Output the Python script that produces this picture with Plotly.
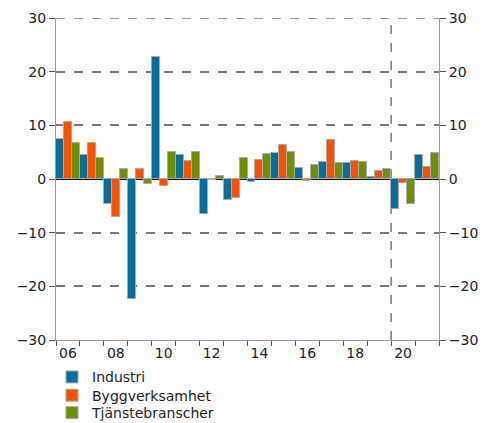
import plotly.graph_objects as go

# data
years = list(range(2006, 2022))
industri = [7.4, 4.5, -4.7, -22.4, 22.8, 4.5, -6.6, -3.9, -0.6, 4.8, 2.1, 3.2, 3.0, 0.4, -5.6, 4.5]
bygg = [10.7, 6.8, -7.0, 1.8, -1.3, 3.3, -0.1, -3.6, 3.6, 6.3, -0.4, 7.2, 3.4, 1.5, -0.8, 2.3]
tjanst = [6.8, 4.0, 1.9, -1.0, 5.0, 5.0, 0.6, 4.0, 4.7, 5.1, 2.7, 3.0, 3.2, 1.9, -4.7, 4.8]
tick_years = [2006, 2008, 2010, 2012, 2014, 2016, 2018, 2020]
tick_text = ["06", "08", "10", "12", "14", "16", "18", "20"]

fig = go.Figure()
series = [("Industri", industri, "#006f9e", "legend"),
          ("Byggverksamhet", bygg, "#ff5000", "legend2"),
          ("Tjänstebranscher", tjanst, "#6e9100", "legend3")]
for name, vals, col, leg in series:
    fig.add_trace(go.Bar(x=years, y=vals, name=name, legend=leg,
                         marker=dict(color=col, line=dict(color="#aaaaaa", width=1))))

# usynlig trace for høgre akse
fig.add_trace(go.Scatter(x=[years[0]], y=[0], yaxis="y2", mode="markers",
                         marker=dict(opacity=0), showlegend=False, hoverinfo="skip"))

# prognoselinje + toppgrid
fig.add_shape(type="line", x0=2019.5, x1=2019.5, y0=-30, y1=30, xref="x", yref="y",
              line=dict(color="#777777", width=1.5, dash="dash"), layer="below")
fig.add_shape(type="line", x0=0, x1=1, y0=30, y1=30, xref="paper", yref="y",
              line=dict(color="#777777", width=1.5, dash="dash"), layer="below")

# tre legender, en per serie, for tett radavstand
leg_common = dict(xref="container", yref="container", xanchor="left", yanchor="middle",
                  x=0.0915, font=dict(size=14), itemwidth=30, bgcolor="rgba(0,0,0,0)")

fig.update_layout(
    width=481, height=415,
    margin=dict(l=48, r=50, t=10, b=83, autoexpand=False),
    plot_bgcolor="white", paper_bgcolor="white",
    barmode="group", bargap=0, bargroupgap=0,
    font=dict(family="Verdana, DejaVu Sans", size=14, color="#222222"),
    legend=dict(y=0.110, **leg_common),
    legend2=dict(y=0.066, **leg_common),
    legend3=dict(y=0.024, **leg_common),
    xaxis=dict(range=[2005.5, 2021.5], tickvals=tick_years, ticktext=tick_text,
               ticks="", showgrid=False, showline=True, linecolor="#999999",
               zeroline=False, automargin=False,
               minor=dict(tick0=2005.5, dtick=1, ticks="outside", ticklen=5,
                          tickcolor="#555555", showgrid=False)),
    yaxis=dict(range=[-30, 30], dtick=10, showgrid=True, gridcolor="#777777",
               griddash="dash", gridwidth=1.5, zeroline=True, zerolinecolor="#111111",
               zerolinewidth=1.5, showline=True, linecolor="#999999", automargin=False,
               ticks="outside", ticklen=6, tickcolor="#555555"),
    yaxis2=dict(range=[-30, 30], dtick=10, overlaying="y", side="right",
                showgrid=False, zeroline=False, showline=True, linecolor="#999999",
                automargin=False, ticks="outside", ticklen=6, tickcolor="#555555"),
)

fig.write_html("out.html")
